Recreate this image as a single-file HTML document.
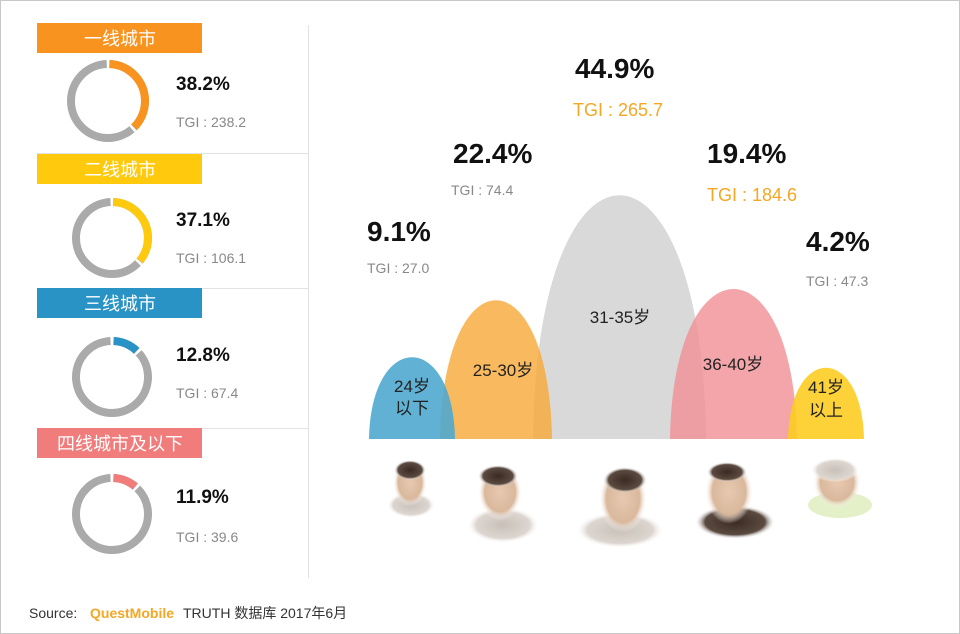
<!DOCTYPE html>
<html><head><meta charset="utf-8"><style>
html,body{margin:0;padding:0;background:#fff}
svg{display:block}
text{font-family:"Liberation Sans","Noto Sans CJK SC",sans-serif}
</style></head><body>
<svg width="960" height="634" viewBox="0 0 960 634" xmlns="http://www.w3.org/2000/svg">
<defs>
<radialGradient id="f" cx="50%" cy="45%" r="50%"><stop offset="0" stop-color="#e8c9b0"/><stop offset="0.7" stop-color="#d9b89c"/><stop offset="1" stop-color="#fff" stop-opacity="0"/></radialGradient>
<radialGradient id="h" cx="50%" cy="50%" r="50%"><stop offset="0" stop-color="#3a2a22"/><stop offset="0.75" stop-color="#5a4a40"/><stop offset="1" stop-color="#fff" stop-opacity="0"/></radialGradient>
<radialGradient id="b" cx="50%" cy="50%" r="50%"><stop offset="0" stop-color="#c8c0b8"/><stop offset="0.75" stop-color="#ddd6d0"/><stop offset="1" stop-color="#fff" stop-opacity="0"/></radialGradient>
</defs>
<rect x="0.5" y="0.5" width="959" height="633" fill="#fff" stroke="#c8c8c8"/>
<line x1="308.5" y1="25" x2="308.5" y2="578" stroke="#e2e2e2"/>
<g stroke="#e2e2e2"><line x1="37" y1="153.5" x2="308" y2="153.5"/><line x1="37" y1="288.5" x2="308" y2="288.5"/><line x1="37" y1="428.5" x2="308" y2="428.5"/></g>
<rect x="37" y="23" width="165" height="30" fill="#f7931e"/>
<rect x="37" y="154" width="165" height="30" fill="#ffc90e"/>
<rect x="37" y="288" width="165" height="30" fill="#2a93c6"/>
<rect x="37" y="428" width="165" height="30" fill="#f07c7c"/>
<g fill="#fff" font-size="18" text-anchor="middle">
<text x="120" y="45">一线城市</text><text x="120" y="176">二线城市</text><text x="120" y="310">三线城市</text><text x="120" y="450">四线城市及以下</text>
</g>
<g fill="none" stroke-width="8">
<g transform="translate(108,101) rotate(-90)"><circle r="37" stroke="#aaa"/><circle r="37" stroke="#f7931e" stroke-dasharray="85 300" stroke-dashoffset="-2"/><circle r="37" stroke="#fff" stroke-dasharray="2.5 229.5" stroke-dashoffset="1.2"/><circle r="37" stroke="#fff" stroke-dasharray="0 87.5 2.5 300"/></g>
<g transform="translate(112,238) rotate(-90)"><circle r="36" stroke="#aaa"/><circle r="36" stroke="#ffc90e" stroke-dasharray="79 300" stroke-dashoffset="-2"/><circle r="36" stroke="#fff" stroke-dasharray="2.5 223" stroke-dashoffset="1.2"/><circle r="36" stroke="#fff" stroke-dasharray="0 81.5 2.5 300"/></g>
<g transform="translate(112,377) rotate(-90)"><circle r="36" stroke="#aaa"/><circle r="36" stroke="#2a93c6" stroke-dasharray="25 300" stroke-dashoffset="-2"/><circle r="36" stroke="#fff" stroke-dasharray="2.5 223" stroke-dashoffset="1.2"/><circle r="36" stroke="#fff" stroke-dasharray="0 27.5 2.5 300"/></g>
<g transform="translate(112,514) rotate(-90)"><circle r="36" stroke="#aaa"/><circle r="36" stroke="#f07c7c" stroke-dasharray="23 300" stroke-dashoffset="-2"/><circle r="36" stroke="#fff" stroke-dasharray="2.5 223" stroke-dashoffset="1.2"/><circle r="36" stroke="#fff" stroke-dasharray="0 25.5 2.5 300"/></g>
</g>
<g font-size="19" font-weight="bold" fill="#111">
<text x="176" y="90">38.2%</text><text x="176" y="226">37.1%</text><text x="176" y="361">12.8%</text><text x="176" y="503">11.9%</text>
</g>
<g font-size="14" fill="#888">
<text x="176" y="127">TGI : 238.2</text><text x="176" y="263">TGI : 106.1</text><text x="176" y="398">TGI : 67.4</text><text x="176" y="542">TGI : 39.6</text>
</g>
<path d="M533,439 C536,114 703,114 706,439Z" fill="#d9d9d9"/>
<path d="M440,439 C443,254 549,254 552,439Z" fill="#f8a93a" opacity="0.82"/>
<path d="M369,439 C371,330 453,330 455,439Z" fill="#4fa8cf" opacity="0.9"/>
<path d="M670,439 C673,239 794,239 797,439Z" fill="#f08f93" opacity="0.8"/>
<path d="M788,439 C790,344 862,344 864,439Z" fill="#fdcc22" opacity="0.9"/>
<g font-size="17" fill="#222" text-anchor="middle">
<text x="412" y="392">24岁</text><text x="412" y="414">以下</text>
<text x="503" y="376">25-30岁</text>
<text x="620" y="323">31-35岁</text>
<text x="733" y="370">36-40岁</text>
<text x="826" y="393">41岁</text><text x="826" y="416">以上</text>
</g>
<g font-size="28" font-weight="bold" fill="#111">
<text x="367" y="241">9.1%</text><text x="453" y="163">22.4%</text><text x="575" y="78">44.9%</text><text x="707" y="163">19.4%</text><text x="806" y="251">4.2%</text>
</g>
<g font-size="14" fill="#888">
<text x="367" y="273">TGI : 27.0</text><text x="451" y="195">TGI : 74.4</text><text x="806" y="286">TGI : 47.3</text>
</g>
<g font-size="18" fill="#f5a623">
<text x="573" y="116">TGI : 265.7</text><text x="707" y="201">TGI : 184.6</text>
</g>
<g>
<ellipse cx="411" cy="505" rx="24" ry="13" fill="url(#b)"/><ellipse cx="410" cy="485" rx="17" ry="24" fill="url(#f)"/><ellipse cx="410" cy="470" rx="16" ry="10" fill="url(#h)"/>
<ellipse cx="503" cy="525" rx="36" ry="18" fill="url(#b)"/><ellipse cx="500" cy="495" rx="22" ry="28" fill="url(#f)"/><ellipse cx="498" cy="476" rx="20" ry="11" fill="url(#h)"/>
<ellipse cx="620" cy="530" rx="44" ry="18" fill="url(#b)"/><ellipse cx="623" cy="502" rx="24" ry="34" fill="url(#f)"/><ellipse cx="625" cy="480" rx="22" ry="13" fill="url(#h)"/>
<ellipse cx="735" cy="522" rx="40" ry="17" fill="url(#h)"/><ellipse cx="729" cy="495" rx="24" ry="32" fill="url(#f)"/><ellipse cx="727" cy="472" rx="20" ry="10" fill="url(#h)"/>
<ellipse cx="840" cy="505" rx="32" ry="13" fill="#d8eab0" opacity="0.7"/><ellipse cx="837" cy="485" rx="24" ry="26" fill="url(#f)"/><ellipse cx="835" cy="470" rx="24" ry="12" fill="url(#b)"/>
</g>
<text x="29" y="618" font-size="14" fill="#333">Source:</text>
<text x="90" y="618" font-size="14" font-weight="bold" fill="#f5a623">QuestMobile</text>
<text x="183" y="618" font-size="14" fill="#333">TRUTH 数据库 2017年6月</text>
</svg>
</body></html>
